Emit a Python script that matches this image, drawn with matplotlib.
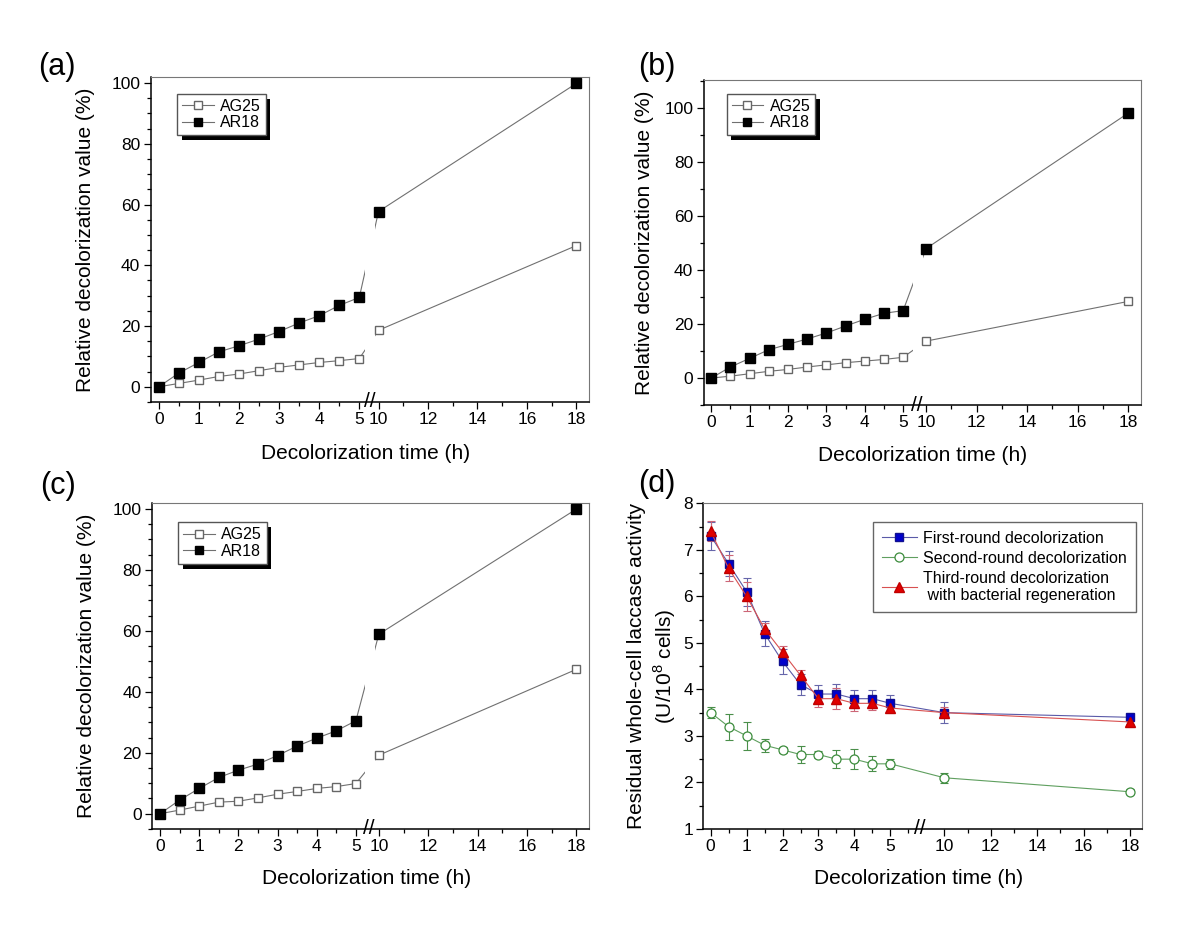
import numpy as np
import matplotlib.pyplot as plt
from matplotlib.lines import Line2D
from matplotlib.patches import Rectangle
from matplotlib.ticker import NullFormatter
import matplotlib.transforms as mtransforms

plt.rcParams['font.family'] = ['Liberation Sans', 'DejaVu Sans']
plt.rcParams['mathtext.fontset'] = 'custom'
plt.rcParams['mathtext.rm'] = 'Liberation Sans'

# sampling times (h)
t = [0, 0.5, 1, 1.5, 2, 2.5, 3, 3.5, 4, 4.5, 5, 10, 18]

# panels a-c : relative decolorization value (%)
ag25_a = [0, 1.1, 2.2, 3.4, 4.2, 5.3, 6.4, 7.2, 8.0, 8.6, 9.3, 18.6, 46.5]
ar18_a = [0, 4.5, 8.0, 11.5, 13.5, 15.7, 18.2, 21.0, 23.4, 26.8, 29.4, 57.7, 99.9]
ag25_b = [0, 0.7, 1.6, 2.5, 3.2, 4.1, 4.9, 5.7, 6.3, 6.9, 7.7, 13.7, 28.4]
ar18_b = [0, 4.1, 7.3, 10.5, 12.5, 14.5, 16.7, 19.3, 21.8, 24.0, 25.0, 48.0, 98.2]
ag25_c = [0, 1.2, 2.5, 3.8, 4.1, 5.2, 6.4, 7.3, 8.3, 8.9, 9.9, 19.2, 47.4]
ar18_c = [0, 4.5, 8.3, 11.9, 14.3, 16.3, 19.1, 22.2, 24.8, 27.2, 30.5, 58.9, 100.0]

# panel d : residual whole-cell laccase activity
first = [7.3, 6.7, 6.1, 5.2, 4.6, 4.1, 3.9, 3.9, 3.8, 3.8, 3.7, 3.5, 3.4]
first_err = [0.3, 0.27, 0.3, 0.26, 0.26, 0.22, 0.19, 0.21, 0.19, 0.19, 0.17, 0.22, 0.08]
second = [3.5, 3.2, 3.0, 2.8, 2.7, 2.6, 2.6, 2.5, 2.5, 2.4, 2.4, 2.1, 1.8]
second_err = [0.12, 0.28, 0.3, 0.14, 0.07, 0.18, 0.07, 0.19, 0.21, 0.16, 0.11, 0.11, 0.05]
third = [7.4, 6.6, 6.0, 5.3, 4.8, 4.3, 3.8, 3.8, 3.7, 3.7, 3.6, 3.5, 3.3]
third_err = [0.21, 0.28, 0.31, 0.12, 0.14, 0.11, 0.17, 0.22, 0.16, 0.14, 0.08, 0.12, 0.05]

major_x = [0, 1, 2, 3, 4, 5, 10, 12, 14, 16, 18]
minor_x = [0.5, 1.5, 2.5, 3.5, 4.5, 11, 13, 15, 17]


def broken(a, b, brk1, brk2):
    # piecewise linear x scale: slope a up to brk1, slope b from brk2
    y1 = brk1 * a
    y2 = y1 + 0.05 * a
    xp = [-50.0, brk1, brk2, 60.0]
    fp = [-50.0 * a, y1, y2, y2 + (60.0 - brk2) * b]
    fwd = lambda x: np.interp(x, xp, fp)
    inv = lambda y: np.interp(y, fp, xp)
    return fwd, inv


def style(ax, a, b, brk1, brk2, minors):
    ax.set_xscale('function', functions=broken(a, b, brk1, brk2))
    ax.set_xlim(-0.2, 18.5)
    ax.set_xticks(major_x, [str(v) for v in major_x])
    ax.set_xticks(minors, minor=True)
    ax.xaxis.set_minor_formatter(NullFormatter())
    ax.tick_params(which='both', direction='out', width=0.9, labelsize=12.5)
    ax.tick_params(which='major', length=5)
    ax.tick_params(which='minor', length=3)
    ax.tick_params(axis='x', pad=2.5)
    ax.tick_params(axis='y', pad=2.5)
    for s in ['top', 'right']:
        ax.spines[s].set_color('#777777')
        ax.spines[s].set_linewidth(0.8)
    for s in ['left', 'bottom']:
        ax.spines[s].set_linewidth(1.1)
    br = mtransforms.blended_transform_factory(ax.transData, ax.transAxes)
    ax.text(brk1, 0, '//', transform=br, ha='center', va='center',
            fontsize=15, zorder=5)
    ax.set_xlabel('Decolorization time (h)', fontsize=15, va='center')


fig = plt.figure(figsize=(12, 9.26), dpi=100)
shadowed = []

panels = [
    # name, rect, data, scale, ylim, minor y, ylabel x, xlabel xy, legend, label pos
    ('(a)', [0.1256, 0.5659, 0.3651, 0.3510], ag25_a, ar18_a,
     (40.2, 24.8, 5.25, 9.71), (-2, 102), 5, -0.149, 0.49, -0.157,
     (0.0605, 0.948), (57, 67)),
    ('(b)', [0.5863, 0.5626, 0.3643, 0.3510], ag25_b, ar18_b,
     (38.6, 25.4, 5.35, 9.70), (-10, 110.5), 10, -0.134, 0.5, -0.154,
     (0.053, 0.957), (657, 67)),
    ('(c)', [0.1269, 0.1048, 0.3638, 0.3521], ag25_c, ar18_c,
     (39.3, 24.8, 5.34, 9.69), (-3, 102), 5, -0.15, 0.491, -0.153,
     (0.0596, 0.94), (58, 486)),
]

for name, rect, ag, ar, sc, ylim, ymin, ylx, xlx, xly, lpos, ppos in panels:
    ax = fig.add_axes(rect)
    a, b, brk1, brk2 = sc
    style(ax, a, b, brk1, brk2, minor_x)
    ax.plot(t, ag, '-', color='#707070', lw=0.8, zorder=2)
    ax.plot(t, ar, '-', color='#707070', lw=0.8, zorder=2)
    # white gap in the connecting lines at the axis break
    ax.axvspan(brk1 - 0.1, brk2 + 0.16, color='white', lw=0, zorder=2.2)
    ax.plot(t, ag, 's', ms=6.3, mfc='white', mec='#666666', mew=1.0, zorder=3)
    ax.plot(t, ar, 's', ms=6.5, mfc='black', mec='black', zorder=3)
    ax.set_ylim(*ylim)
    ax.set_yticks(np.arange(0, 101, 20))
    ax.set_yticks(np.arange(ylim[0] - ylim[0] % ymin, ylim[1], ymin), minor=True)
    ax.yaxis.set_minor_formatter(NullFormatter())
    ax.set_ylabel('Relative decolorization value (%)', fontsize=15, va='center')
    ax.yaxis.set_label_coords(ylx, 0.5)
    ax.xaxis.set_label_coords(xlx, xly)
    handles = [
        Line2D([], [], color='#707070', lw=0.8, marker='s', ms=6,
               mfc='white', mec='#666666'),
        Line2D([], [], color='#707070', lw=0.8, marker='s', ms=6,
               mfc='black', mec='black'),
    ]
    leg = ax.legend(handles, ['AG25', 'AR18'], loc='upper left',
                    bbox_to_anchor=lpos, borderaxespad=0, fontsize=11.5,
                    handlelength=2.0, handletextpad=0.4, borderpad=0.3,
                    labelspacing=0.1, fancybox=False, edgecolor='#555555',
                    framealpha=1)
    shadowed.append((ax, leg))
    fig.text(ppos[0] / 1200, 1 - ppos[1] / 926, name, fontsize=22,
             ha='center', va='center')

# panel d
ax = fig.add_axes([0.5862, 0.1048, 0.3651, 0.3517])
style(ax, 36.1, 23.3, 5.83, 9.04, minor_x + [5.5])
blue_line, blue_face = '#5a5aa8', '#0000cc'
green_line, green_edge = '#5f9f5f', '#3c8c3c'
red_line, red_face = '#d85050', '#e00000'
ax.errorbar(t, first, yerr=first_err, fmt='none', ecolor='#6666aa',
            elinewidth=0.8, capsize=3, capthick=0.8, zorder=2)
ax.errorbar(t, second, yerr=second_err, fmt='none', ecolor='#4a8f4a',
            elinewidth=0.8, capsize=3, capthick=0.8, zorder=2)
ax.errorbar(t, third, yerr=third_err, fmt='none', ecolor='#cc6677',
            elinewidth=0.8, capsize=3, capthick=0.8, zorder=2)
ax.plot(t, first, '-', color=blue_line, lw=0.8, marker='s', ms=5.5,
        mfc=blue_face, mec='#101090', label='First-round decolorization', zorder=3)
ax.plot(t, second, '-', color=green_line, lw=0.8, marker='o', ms=6.5,
        mfc='white', mec=green_edge, mew=0.9,
        label='Second-round decolorization', zorder=3)
ax.plot(t, third, '-', color=red_line, lw=0.8, marker='^', ms=7.5,
        mfc=red_face, mec='#c00000',
        label='Third-round decolorization\n with bacterial regeneration', zorder=4)
ax.set_ylim(1, 8)
ax.set_yticks(range(1, 9))
ax.set_yticks(np.arange(1.5, 8, 1), minor=True)
ax.yaxis.set_minor_formatter(NullFormatter())
ax.set_ylabel('Residual whole-cell laccase activity\n(U/10$^8$ cells)',
              fontsize=15, va='center', linespacing=1.25)
ax.yaxis.set_label_coords(-0.117, 0.5)
ax.xaxis.set_label_coords(0.492, -0.153)
ax.legend(loc='upper right', bbox_to_anchor=(0.987, 0.942), borderaxespad=0,
          fontsize=11.5, handlelength=2.2, handletextpad=0.4, borderpad=0.55,
          labelspacing=0.3, fancybox=False, edgecolor='#666666', framealpha=1)
fig.text(657 / 1200, 1 - 484 / 926, '(d)', fontsize=22, ha='center', va='center')

# solid black drop shadows behind the small legends
fig.canvas.draw()
for ax_, leg in shadowed:
    bb = leg.get_window_extent()
    ax_.add_artist(Rectangle((bb.x0 + 4.5, bb.y0 - 5), bb.width, bb.height,
                             transform=mtransforms.IdentityTransform(),
                             facecolor='black', edgecolor='none',
                             clip_on=False, zorder=4.9))

fig.savefig('out.png', dpi=100)
